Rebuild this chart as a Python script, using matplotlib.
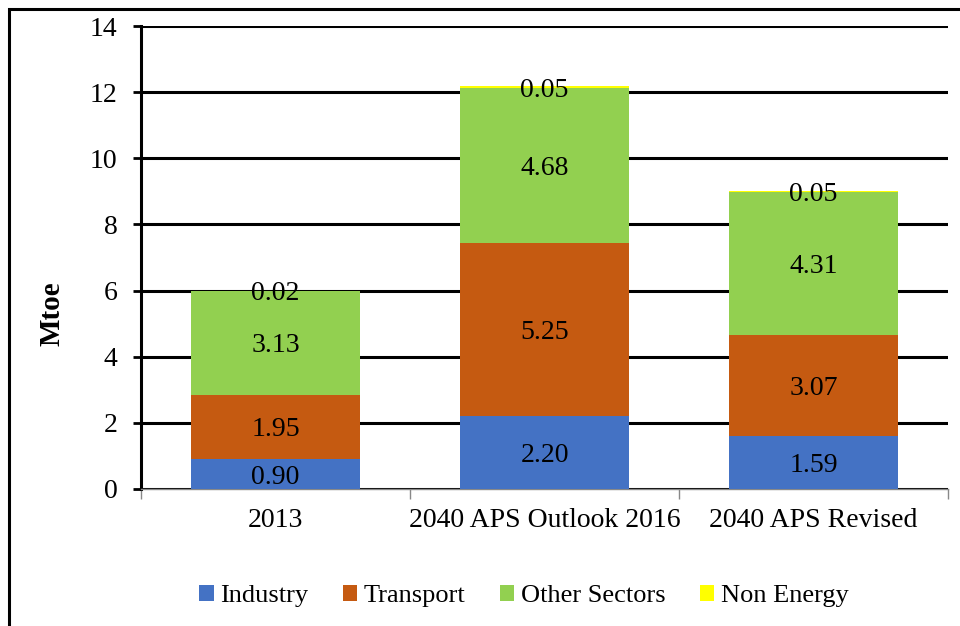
import numpy as np
import matplotlib
matplotlib.use("Agg")
import matplotlib.pyplot as plt
from matplotlib.patches import Rectangle

categories = ["2013", "2040 APS Outlook 2016", "2040 APS Revised"]
series_names = ["Industry", "Transport", "Other Sectors", "Non Energy"]
industry = [0.90, 2.20, 1.59]
transport = [1.95, 5.25, 3.07]
other_sectors = [3.13, 4.68, 4.31]
non_energy = [0.02, 0.05, 0.05]
colors = ["#4472C4", "#C55A11", "#92D050", "#FFFF00"]

plt.rcParams["font.family"] = ["Liberation Serif", "DejaVu Serif"]

W, H = 960, 626
fig = plt.figure(figsize=(W / 100, H / 100), dpi=100)
ax = fig.add_axes([141 / W, 1 - 489 / H, (948 - 141) / W, (489 - 26) / H])

x = np.arange(len(categories))
bottom = np.zeros(len(categories))
handles = []
for name, vals, col in zip(series_names, [industry, transport, other_sectors, non_energy], colors):
    vals = np.array(vals)
    b = ax.bar(x, vals, 0.625, bottom=bottom, color=col, label=name, zorder=3)
    handles.append(b)
    for xi, v, bt in zip(x, vals, bottom):
        ax.text(xi, bt + v / 2, f"{v:.2f}", ha="center", va="center_baseline", fontsize=20, zorder=4)
    bottom += vals

ax.set_xlim(-0.5, 2.5)
ax.set_ylim(0, 14)
ax.set_yticks(np.arange(0, 15, 2))
ax.yaxis.grid(True, color="black", lw=2.2, zorder=0)
ax.set_axisbelow(True)
ax.tick_params(axis="y", labelsize=20, length=6, width=2, direction="out", pad=11)
ax.set_xticks(x)
ax.set_xticklabels(categories, fontsize=20)
ax.tick_params(axis="x", which="major", length=0, pad=14)
ax.set_xticks([-0.5, 0.5, 1.5, 2.5], minor=True)
ax.tick_params(axis="x", which="minor", length=7, width=1, color="#888888", direction="out")
for s in ["top", "right"]:
    ax.spines[s].set_visible(False)
ax.spines["left"].set_linewidth(2.2)
ax.spines["bottom"].set_color("#888888")
ax.spines["bottom"].set_linewidth(1)
ax.set_ylabel("Mtoe", fontsize=21, fontweight="bold")
ax.yaxis.set_label_coords((65 - 141) / (948 - 141), 0.5 - (314 - 257.5) / 463)

fig.legend(handles, series_names, loc="center", bbox_to_anchor=(524 / W, 1 - 596 / H),
           ncol=4, frameon=False, fontsize=19, handlelength=0.55, handleheight=0.55,
           handletextpad=0.25, columnspacing=1.3)

fig.patches.append(Rectangle((9 / W, -0.1), 1.2, (H - 9) / H + 0.1, transform=fig.transFigure,
                             fill=False, edgecolor="black", lw=2.2))

fig.savefig("out.png", dpi=100)
